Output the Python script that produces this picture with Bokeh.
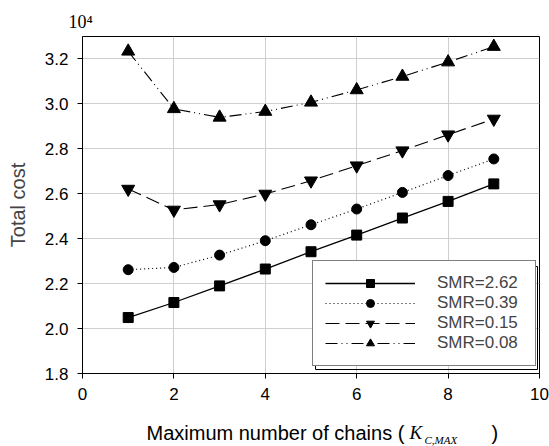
from bokeh.plotting import figure
from bokeh.layouts import column
from bokeh.models import Range1d, FixedTicker, NumeralTickFormatter, Label, Legend, LegendItem, BoxAnnotation
from bokeh.embed import file_html
from bokeh.resources import INLINE

x_vals = [1, 2, 3, 4, 5, 6, 7, 8, 9]
smr_262 = [2.049, 2.116, 2.190, 2.265, 2.342, 2.416, 2.492, 2.566, 2.644]
smr_039 = [2.262, 2.272, 2.327, 2.391, 2.462, 2.532, 2.606, 2.681, 2.755]
smr_015 = [2.621, 2.528, 2.552, 2.599, 2.658, 2.725, 2.792, 2.863, 2.933]
smr_008 = [3.234, 2.978, 2.940, 2.966, 3.007, 3.062, 3.122, 3.186, 3.255]
series_labels = ["SMR=2.62", "SMR=0.39", "SMR=0.15", "SMR=0.08"]
x_ticks = [0, 2, 4, 6, 8, 10]
y_ticks = [1.8, 2.0, 2.2, 2.4, 2.6, 2.8, 3.0, 3.2]

W, H = 549, 446
MAIN_H = 418                           # main plot; the x-axis title strip sits below it
L, R, T, B = 82, 539, 36, 373          # frame edges in page pixels
SANS = "Liberation Sans"
SERIF = "Liberation Serif"

p = figure(width=W, height=MAIN_H, output_backend="svg", toolbar_location=None,
           x_range=Range1d(0, 10), y_range=Range1d(1.8, 3.3),
           min_border_left=L, min_border_right=W - R, min_border_top=T,
           min_border_bottom=MAIN_H - B)
p.background_fill_color = "white"
p.border_fill_color = "white"
p.outline_line_color = "black"
p.outline_line_width = 1

# multiplier shown above the y axis
p.title.text = "10\u2074"
p.title.text_font = SERIF
p.title.text_font_size = "18px"
p.title.text_font_style = "normal"
p.title.text_color = "black"
p.title.align = "left"
p.title.offset = 68 - L
p.title.standoff = 10

for ax in (p.xaxis[0], p.yaxis[0]):
    ax.axis_line_color = "black"
    ax.major_tick_line_color = "black"
    ax.major_tick_out = 5
    ax.major_tick_in = 0
    ax.minor_tick_line_color = None
    ax.major_label_text_font = SANS
    ax.major_label_text_font_size = "17px"
    ax.major_label_text_color = "black"

p.xaxis.ticker = FixedTicker(ticks=x_ticks)
p.yaxis.ticker = FixedTicker(ticks=y_ticks)
p.yaxis.formatter = NumeralTickFormatter(format="0.0")
p.xaxis.major_label_standoff = 9
p.yaxis.major_label_standoff = 9
p.yaxis.axis_label = "Total cost"
p.yaxis.axis_label_text_font = SANS
p.yaxis.axis_label_text_font_size = "20px"
p.yaxis.axis_label_text_font_style = "normal"
p.yaxis.axis_label_standoff = 13

p.xgrid.grid_line_color = "#cfcfcf"
p.ygrid.grid_line_color = "#cfcfcf"

styles = [
    (smr_262, "solid", 1.3, "square", 10),
    (smr_039, "1 3", 1.2, "circle", 10),
    (smr_015, "14 6", 1.1, "inverted_triangle", 13),
    (smr_008, "12 4 1 4 1 4", 1.1, "triangle", 13),
]
items = []
for (ys, dash, lw, marker, size), lab in zip(styles, series_labels):
    r1 = p.line(x_vals, ys, line_color="black", line_width=lw, line_dash=dash)
    r2 = p.scatter(x_vals, ys, marker=marker, size=size, fill_color="black", line_color="black")
    items.append(LegendItem(label=lab, renderers=[r1, r2]))


def dx(px):
    return (px - L) / (R - L) * 10.0


def dy(py):
    return 1.8 + (B - py) / (B - T) * 1.5


# legend shadow line (double border at right / bottom)
p.add_layout(BoxAnnotation(left=dx(315), right=dx(537), top=dy(266), bottom=dy(369),
                           fill_alpha=0, line_color="black", line_alpha=1, line_width=1,
                           level="underlay"))

legend = Legend(items=items, location=(230, 7))
legend.border_line_color = "black"
legend.border_line_width = 1
legend.background_fill_color = "white"
legend.background_fill_alpha = 1
legend.glyph_width = 90
legend.glyph_height = 20
legend.label_height = 20
legend.spacing = 0
legend.padding = 12
legend.margin = 0
legend.label_standoff = 22
legend.label_width = 86
legend.label_text_font = SANS
legend.label_text_font_size = "17px"
legend.label_text_baseline = "middle"
p.add_layout(legend, "center")

# --- strip below the plot carrying the x-axis title (its frame lines up with the plot frame)
bot = figure(width=W, height=H - MAIN_H, output_backend="svg", toolbar_location=None,
             x_range=Range1d(L, R), y_range=Range1d(H, MAIN_H),
             x_axis_type=None, y_axis_type=None, min_border=0)
bot.outline_line_color = None
bot.grid.visible = False
bot.background_fill_color = "white"
bot.border_fill_color = "white"


def put(px, py, txt, font, size, style="normal"):
    bot.add_layout(Label(x=px, y=py, text=txt, text_font=font, text_font_size=size,
                         text_font_style=style, text_align="left", text_baseline="middle",
                         text_color="black"))


put(146, 432, "Maximum number of chains (", SANS, "20px")
put(409, 432, "K", SERIF, "19px", "italic")
put(424, 439, "C,MAX", SERIF, "11px", "italic")
put(491, 432, ")", SANS, "20px")

layout = column(p, bot, spacing=0)
open("out.html", "w").write(file_html(layout, INLINE))
